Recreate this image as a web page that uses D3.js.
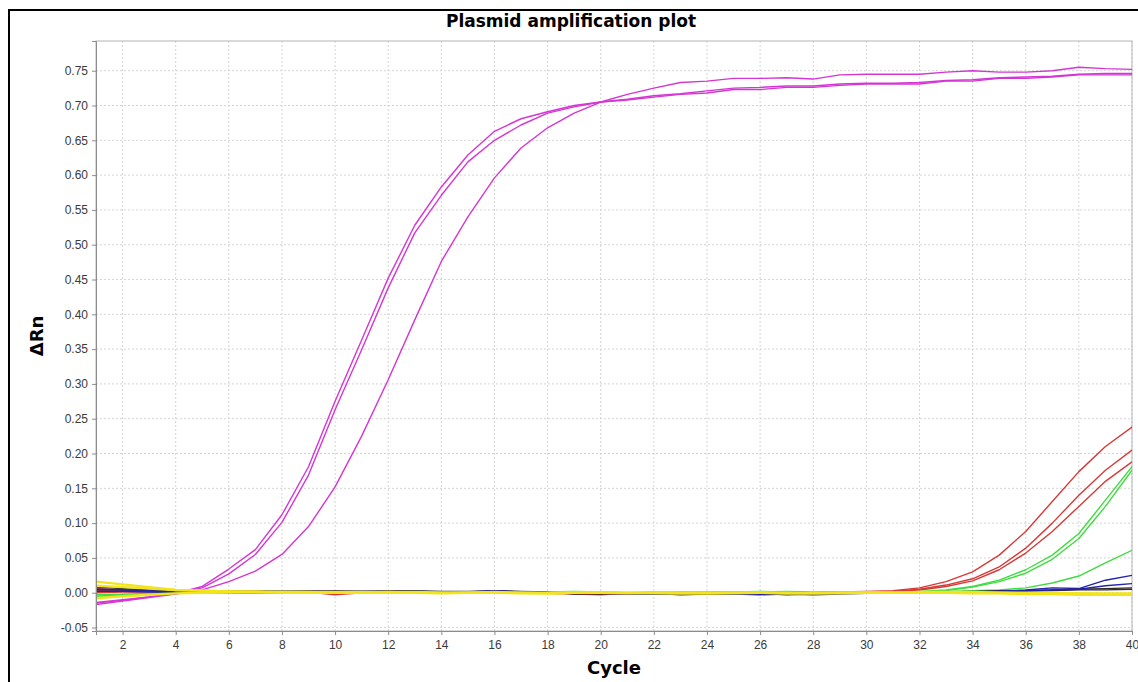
<!DOCTYPE html>
<html>
<head>
<meta charset="utf-8">
<script src="https://cdn.jsdelivr.net/npm/d3@7"></script>
<style>
  body { margin: 0; background: #fff; }
  svg { display: block; font-family: "DejaVu Sans", sans-serif; }
  .grid line { stroke: #d4d4d4; stroke-dasharray: 2,2; }
  .axis path, .axis line { stroke: #8c8c8c; }
  .axis text { fill: #3a3a3a; font-size: 12px; }
</style>
</head>
<body>
<svg id="chart" width="1138" height="682"></svg>
<script>
// cycle numbers (x categories)
const cycles = [1, 2, 3, 4, 5, 6, 7, 8, 9, 10,
  11, 12, 13, 14, 15, 16, 17, 18, 19, 20,
  21, 22, 23, 24, 25, 26, 27, 28, 29, 30,
  31, 32, 33, 34, 35, 36, 37, 38, 39, 40];

const xTicks = [2, 4, 6, 8, 10, 12, 14, 16, 18, 20, 22, 24, 26, 28, 30, 32, 34, 36, 38, 40];
const yTicks = [-0.05, 0.00, 0.05, 0.10, 0.15, 0.20, 0.25, 0.30, 0.35, 0.40,
  0.45, 0.50, 0.55, 0.60, 0.65, 0.70, 0.75];

// plasmid standards (magenta)
const magentaA = [-0.015, -0.011, -0.006, -0.001, 0.009, 0.034, 0.062, 0.112, 0.181, 0.275,
  0.363, 0.452, 0.528, 0.583, 0.629, 0.663, 0.681, 0.691, 0.700, 0.705,
  0.708, 0.712, 0.716, 0.718, 0.723, 0.723, 0.726, 0.726, 0.729, 0.731,
  0.731, 0.731, 0.735, 0.735, 0.739, 0.739, 0.741, 0.744, 0.744, 0.744];
const magentaB = [-0.014, -0.010, -0.006, -0.001, 0.007, 0.027, 0.055, 0.101, 0.169, 0.263,
  0.349, 0.438, 0.517, 0.571, 0.619, 0.650, 0.672, 0.689, 0.698, 0.705,
  0.709, 0.714, 0.717, 0.721, 0.725, 0.726, 0.728, 0.728, 0.731, 0.732,
  0.732, 0.733, 0.736, 0.737, 0.740, 0.741, 0.742, 0.745, 0.746, 0.746];
const magentaC = [-0.017, -0.012, -0.007, -0.002, 0.004, 0.016, 0.031, 0.055, 0.095, 0.152,
  0.225, 0.306, 0.392, 0.476, 0.540, 0.596, 0.639, 0.668, 0.689, 0.705,
  0.716, 0.725, 0.733, 0.735, 0.739, 0.739, 0.740, 0.738, 0.744, 0.745,
  0.745, 0.745, 0.748, 0.750, 0.748, 0.748, 0.750, 0.755, 0.753, 0.752];

// late risers (red)
const red1 = [0.006, 0.004, 0.003, 0.002, 0.002, 0.002, 0.001, 0.001, 0.001, -0.003,
  0.000, 0.001, 0.001, 0.000, 0.000, 0.001, 0.000, -0.001, -0.002, -0.003,
  -0.001, -0.002, -0.001, -0.001, -0.002, -0.001, -0.001, 0.000, 0.001, 0.002,
  0.003, 0.007, 0.016, 0.030, 0.054, 0.088, 0.131, 0.174, 0.210, 0.238];
const red2 = [0.003, 0.003, 0.002, 0.001, 0.002, 0.002, 0.001, 0.000, 0.001, 0.000,
  0.001, 0.002, 0.001, 0.000, 0.001, 0.001, 0.000, -0.001, -0.001, -0.002,
  -0.002, -0.001, -0.002, -0.001, -0.001, -0.002, -0.001, 0.000, 0.001, 0.001,
  0.002, 0.005, 0.011, 0.020, 0.037, 0.064, 0.100, 0.140, 0.176, 0.205];
const red3 = [0.000, 0.001, 0.001, 0.001, 0.002, 0.001, 0.001, 0.001, 0.000, 0.000,
  0.001, 0.001, 0.000, 0.000, 0.000, 0.001, 0.001, 0.000, -0.001, -0.001,
  -0.002, -0.001, -0.001, -0.002, -0.001, -0.001, -0.002, -0.001, 0.000, 0.001,
  0.002, 0.004, 0.009, 0.017, 0.033, 0.057, 0.088, 0.124, 0.160, 0.188];

// green
const green1 = [-0.005, -0.003, -0.002, 0.000, 0.001, 0.001, 0.001, 0.000, -0.001, 0.000,
  0.000, 0.000, 0.000, 0.001, 0.001, 0.000, 0.001, 0.001, 0.002, 0.001,
  0.000, 0.001, 0.000, 0.000, 0.001, 0.001, 0.002, 0.001, 0.001, 0.001,
  0.001, 0.002, 0.004, 0.009, 0.018, 0.033, 0.054, 0.085, 0.133, 0.181];
const green2 = [-0.007, -0.004, -0.002, 0.000, 0.001, 0.000, -0.001, -0.001, 0.000, 0.000,
  0.000, 0.001, 0.000, 0.000, 0.001, 0.001, 0.000, 0.001, 0.001, 0.000,
  0.000, 0.000, 0.000, 0.001, 0.001, 0.002, 0.001, 0.000, 0.001, 0.001,
  0.001, 0.001, 0.003, 0.008, 0.016, 0.028, 0.048, 0.078, 0.124, 0.176];
const green3 = [-0.003, -0.002, -0.001, 0.000, 0.000, 0.000, 0.000, 0.000, 0.001, 0.001,
  0.000, 0.000, 0.001, 0.000, 0.000, 0.000, 0.001, 0.001, 0.001, 0.001,
  0.000, 0.000, 0.001, 0.000, 0.000, 0.001, 0.001, 0.000, 0.000, 0.001,
  0.001, 0.001, 0.002, 0.003, 0.004, 0.007, 0.014, 0.024, 0.043, 0.061];

// blue
const blue1 = [0.002, 0.002, 0.001, 0.001, 0.002, 0.003, 0.003, 0.002, 0.002, 0.002,
  0.002, 0.002, 0.001, 0.001, 0.001, 0.002, 0.001, 0.000, -0.001, -0.001,
  -0.002, -0.002, -0.002, -0.001, -0.002, -0.002, -0.002, -0.003, -0.002, -0.001,
  0.000, 0.000, 0.001, 0.001, 0.002, 0.004, 0.007, 0.006, 0.018, 0.025];
const blue2 = [0.005, 0.004, 0.003, 0.002, 0.002, 0.002, 0.002, 0.002, 0.002, 0.001,
  0.002, 0.002, 0.002, 0.001, 0.001, 0.003, 0.001, 0.000, -0.001, -0.001,
  -0.001, -0.002, -0.001, -0.001, -0.002, -0.002, -0.001, -0.002, -0.001, -0.001,
  0.000, 0.000, 0.001, 0.001, 0.002, 0.003, 0.004, 0.005, 0.010, 0.013];

// dark
const black1 = [0.008, 0.006, 0.004, 0.002, 0.003, 0.003, 0.003, 0.002, 0.003, 0.002,
  0.002, 0.003, 0.003, 0.002, 0.002, 0.003, 0.002, 0.001, -0.002, -0.001,
  -0.001, -0.002, -0.001, 0.000, -0.002, -0.003, -0.002, -0.002, -0.001, 0.000,
  0.001, 0.001, 0.001, 0.002, 0.003, 0.003, 0.004, 0.005, 0.006, 0.007];
const black2 = [0.004, 0.004, 0.003, 0.002, 0.002, 0.003, 0.002, 0.002, 0.002, 0.003,
  0.002, 0.002, 0.001, 0.000, -0.001, 0.003, 0.001, 0.000, -0.001, -0.002,
  -0.001, -0.001, -0.003, -0.002, -0.002, -0.001, -0.003, -0.002, -0.001, -0.001,
  0.000, 0.000, 0.001, 0.001, 0.002, 0.002, 0.003, 0.004, 0.004, 0.005];

// no-template controls (yellow)
const yellow1 = [0.016, 0.012, 0.008, 0.004, 0.003, 0.002, 0.002, 0.001, 0.001, 0.001,
  0.001, 0.001, 0.001, 0.000, 0.000, 0.001, 0.000, 0.000, 0.000, 0.000,
  0.000, 0.000, -0.001, -0.001, -0.001, 0.000, -0.001, -0.001, 0.000, 0.000,
  0.000, 0.000, 0.000, 0.000, 0.000, -0.001, -0.001, -0.001, -0.002, -0.002];
const yellow2 = [0.010, 0.008, 0.006, 0.004, 0.003, 0.002, 0.001, 0.001, 0.001, 0.000,
  0.000, 0.001, 0.000, 0.000, 0.000, 0.000, 0.000, -0.001, 0.000, 0.000,
  -0.001, 0.000, 0.000, -0.001, 0.000, 0.000, 0.000, -0.001, -0.001, 0.000,
  0.000, 0.001, 0.001, 0.001, 0.000, 0.000, 0.000, -0.001, -0.001, -0.001];
const yellow3 = [-0.008, -0.005, -0.003, -0.001, 0.000, 0.001, 0.001, 0.000, 0.000, 0.000,
  0.000, 0.000, 0.000, -0.001, 0.000, 0.000, -0.001, -0.001, 0.000, 0.000,
  0.000, -0.001, -0.001, 0.000, 0.000, 0.000, -0.001, 0.000, 0.000, 0.000,
  0.000, 0.000, 0.000, -0.001, -0.001, -0.002, -0.002, -0.003, -0.003, -0.003];

// draw order, bottom first
const series = [
  { values: magentaA, color: "#d436d4", width: 1.4 },
  { values: magentaB, color: "#d436d4", width: 1.4 },
  { values: magentaC, color: "#d436d4", width: 1.4 },
  { values: red1, color: "#d63a36", width: 1.4 },
  { values: red2, color: "#d63a36", width: 1.4 },
  { values: red3, color: "#d63a36", width: 1.4 },
  { values: green1, color: "#3fdc3f", width: 1.4 },
  { values: green2, color: "#3fdc3f", width: 1.4 },
  { values: green3, color: "#3fdc3f", width: 1.4 },
  { values: black1, color: "#2a2a2a", width: 1.3 },
  { values: black2, color: "#3a2a2a", width: 1.3 },
  { values: blue1, color: "#2323a8", width: 1.4 },
  { values: blue2, color: "#2323a8", width: 1.4 },
  { values: yellow1, color: "#f2e41c", width: 2.4 },
  { values: yellow2, color: "#f2e41c", width: 2.4 },
  { values: yellow3, color: "#f2e41c", width: 2.4 }
];

const W = 1138, H = 682;
const PLOT = { left: 96, right: 1132, top: 41, bottom: 631 };

const svg = d3.select("#chart");

// outer frame (only left and top edges fall inside the picture)
svg.append("rect")
  .attr("x", 9).attr("y", 10)
  .attr("width", W + 20).attr("height", H + 20)
  .attr("fill", "none")
  .attr("stroke", "#000")
  .attr("stroke-width", 2);

const x = d3.scaleLinear().domain([1, 40]).range([PLOT.left, PLOT.right]);
const y = d3.scaleLinear().domain([-0.055, 0.7927]).range([PLOT.bottom, PLOT.top]);

// grid
const grid = svg.append("g").attr("class", "grid");
grid.selectAll(".gy").data(yTicks).join("line")
  .attr("x1", PLOT.left).attr("x2", PLOT.right)
  .attr("y1", d => y(d)).attr("y2", d => y(d));
grid.selectAll(".gx").data(xTicks).join("line")
  .attr("y1", PLOT.top).attr("y2", PLOT.bottom)
  .attr("x1", d => x(d)).attr("x2", d => x(d));

// plot border
svg.append("rect")
  .attr("x", PLOT.left).attr("y", PLOT.top)
  .attr("width", PLOT.right - PLOT.left).attr("height", PLOT.bottom - PLOT.top)
  .attr("fill", "none").attr("stroke", "#b4b4b4");

// clip the curves to the plot area
svg.append("defs").append("clipPath").attr("id", "clip")
  .append("rect")
  .attr("x", PLOT.left).attr("y", PLOT.top)
  .attr("width", PLOT.right - PLOT.left).attr("height", PLOT.bottom - PLOT.top);

const line = d3.line()
  .x((d, i) => x(cycles[i]))
  .y(d => y(d));

svg.append("g").attr("clip-path", "url(#clip)")
  .selectAll("path").data(series).join("path")
  .attr("d", d => line(d.values))
  .attr("fill", "none")
  .attr("stroke", d => d.color)
  .attr("stroke-width", d => d.width)
  .attr("stroke-linejoin", "round");

// axes
svg.append("g").attr("class", "axis")
  .attr("transform", `translate(${PLOT.left},0)`)
  .call(d3.axisLeft(y).tickValues(yTicks).tickSize(4).tickPadding(4)
    .tickFormat(d => d.toFixed(2)));

svg.append("g").attr("class", "axis")
  .attr("transform", `translate(0,${PLOT.bottom})`)
  .call(d3.axisBottom(x).tickValues(xTicks).tickSize(4).tickPadding(5)
    .tickFormat(d => String(d)));

svg.selectAll(".axis .domain").attr("stroke", "#8c8c8c");

// titles
svg.append("text")
  .attr("x", 571).attr("y", 27)
  .attr("text-anchor", "middle")
  .attr("font-size", 17).attr("font-weight", "bold")
  .text("Plasmid amplification plot");

svg.append("text")
  .attr("x", (PLOT.left + PLOT.right) / 2).attr("y", 674)
  .attr("text-anchor", "middle")
  .attr("font-size", 18).attr("font-weight", "bold")
  .text("Cycle");

svg.append("text")
  .attr("transform", `translate(43,${(PLOT.top + PLOT.bottom) / 2}) rotate(-90)`)
  .attr("text-anchor", "middle")
  .attr("font-size", 18).attr("font-weight", "bold")
  .text("ΔRn");
</script>
</body>
</html>
